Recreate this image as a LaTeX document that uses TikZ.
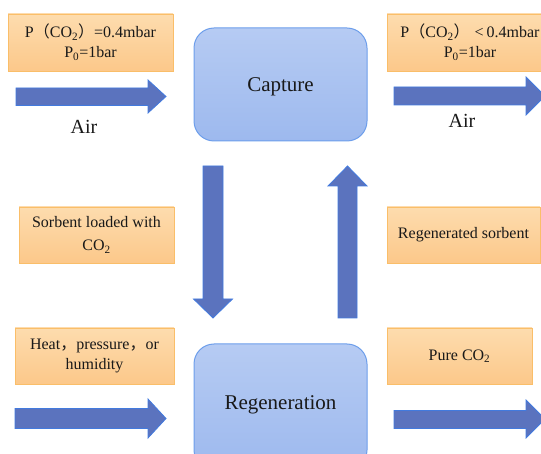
\documentclass[tikz,border=0pt]{standalone}
\usepackage{fontspec}
\setmainfont{Liberation Serif}
\newfontfamily\cjk{Noto Sans CJK SC}
\newcommand\fw[1]{{\cjk #1}}
\definecolor{otop}{RGB}{253,220,174}
\definecolor{obot}{RGB}{252,200,138}
\definecolor{oline}{RGB}{250,190,105}
\definecolor{btop}{RGB}{182,203,243}
\definecolor{bbot}{RGB}{157,185,238}
\definecolor{bline}{RGB}{109,158,235}
\definecolor{afill}{RGB}{91,115,190}
\definecolor{aline}{RGB}{66,122,222}
\tikzset{
  obox/.style={draw=oline, line width=0.9pt, top color=otop, bottom color=obot,
    inner sep=0pt, align=center, text=black!90,
    font=\fontsize{16}{20}\selectfont},
  bbox/.style={draw=bline, line width=1pt, top color=btop, bottom color=bbot,
    rounded corners=20pt},
  blockarrow/.style={draw=aline, line width=0.8pt, fill=afill},
  big/.style={font=\fontsize{21}{24}\selectfont, text=black!90, inner sep=0pt},
  airlbl/.style={font=\fontsize{20}{24}\selectfont, text=black!90, inner sep=0pt}
}
\begin{document}
\begin{tikzpicture}[x=1pt,y=-1pt]
\useasboundingbox (0,0) rectangle (541,454);
\clip (0,0) rectangle (541,454);
% main blue boxes
\draw[bbox] (194,28) rectangle (367,141);
\node[big] (capture) at (280.5,87) {Capture};
\draw[bbox] (194,344) rectangle (367,470);
\node[big] (regen) at (280.5,405) {Regeneration};
% orange boxes
\node[obox, minimum width=165pt, minimum height=57pt] (pin) at (90.5,42.5)
  {P\fw{（}CO\textsubscript{2}\fw{）}=0.4mbar\\P\textsubscript{0}=1bar};
\node[obox, minimum width=166pt, minimum height=57pt] (pout) at (470,42.5)
  {P\fw{（}CO\textsubscript{2}\fw{）}\hspace{5pt}<\hspace{3pt}0.4mbar\\P\textsubscript{0}=1bar};
\node[obox, minimum width=155pt, minimum height=56pt, font=\fontsize{16}{23}\selectfont] (loaded) at (96.5,235)
  {Sorbent loaded with\\CO\textsubscript{2}};
\node[obox, minimum width=153pt, minimum height=56pt] (regsorb) at (463.5,235)
  {Regenerated sorbent};
\node[obox, minimum width=159pt, minimum height=56pt] (heat) at (94.5,356)
  {Heat\fw{，}pressure\fw{，}or\\humidity};
\node[obox, minimum width=145pt, minimum height=56pt] (pure) at (459.5,356)
  {Pure CO\textsubscript{2}};
% air labels
\node[airlbl] (airin) at (84,127) {Air};
\node[airlbl] (airout) at (462,121) {Air};
% horizontal block arrows
\draw[blockarrow] (16,88) -- (148,88) -- (148,80) -- (166,96.5) -- (148,113) -- (148,105.5) -- (16,105.5) -- cycle;
\draw[blockarrow] (394,87) -- (526,87) -- (526,77) -- (545,96) -- (526,115) -- (526,105) -- (394,105) -- cycle;
\draw[blockarrow] (15,408.5) -- (148,408.5) -- (148,399) -- (166,418.5) -- (148,438) -- (148,428.5) -- (15,428.5) -- cycle;
\draw[blockarrow] (394,410.5) -- (526,410.5) -- (526,400) -- (545,419) -- (526,438) -- (526,428.5) -- (394,428.5) -- cycle;
% vertical block arrows
\draw[blockarrow] (203,166) -- (223,166) -- (223,299) -- (232.5,299) -- (213,318) -- (193.5,299) -- (203,299) -- cycle;
\draw[blockarrow] (338,318) -- (357,318) -- (357,186) -- (367,186) -- (347.5,166) -- (328,186) -- (338,186) -- cycle;
\end{tikzpicture}
\end{document}
